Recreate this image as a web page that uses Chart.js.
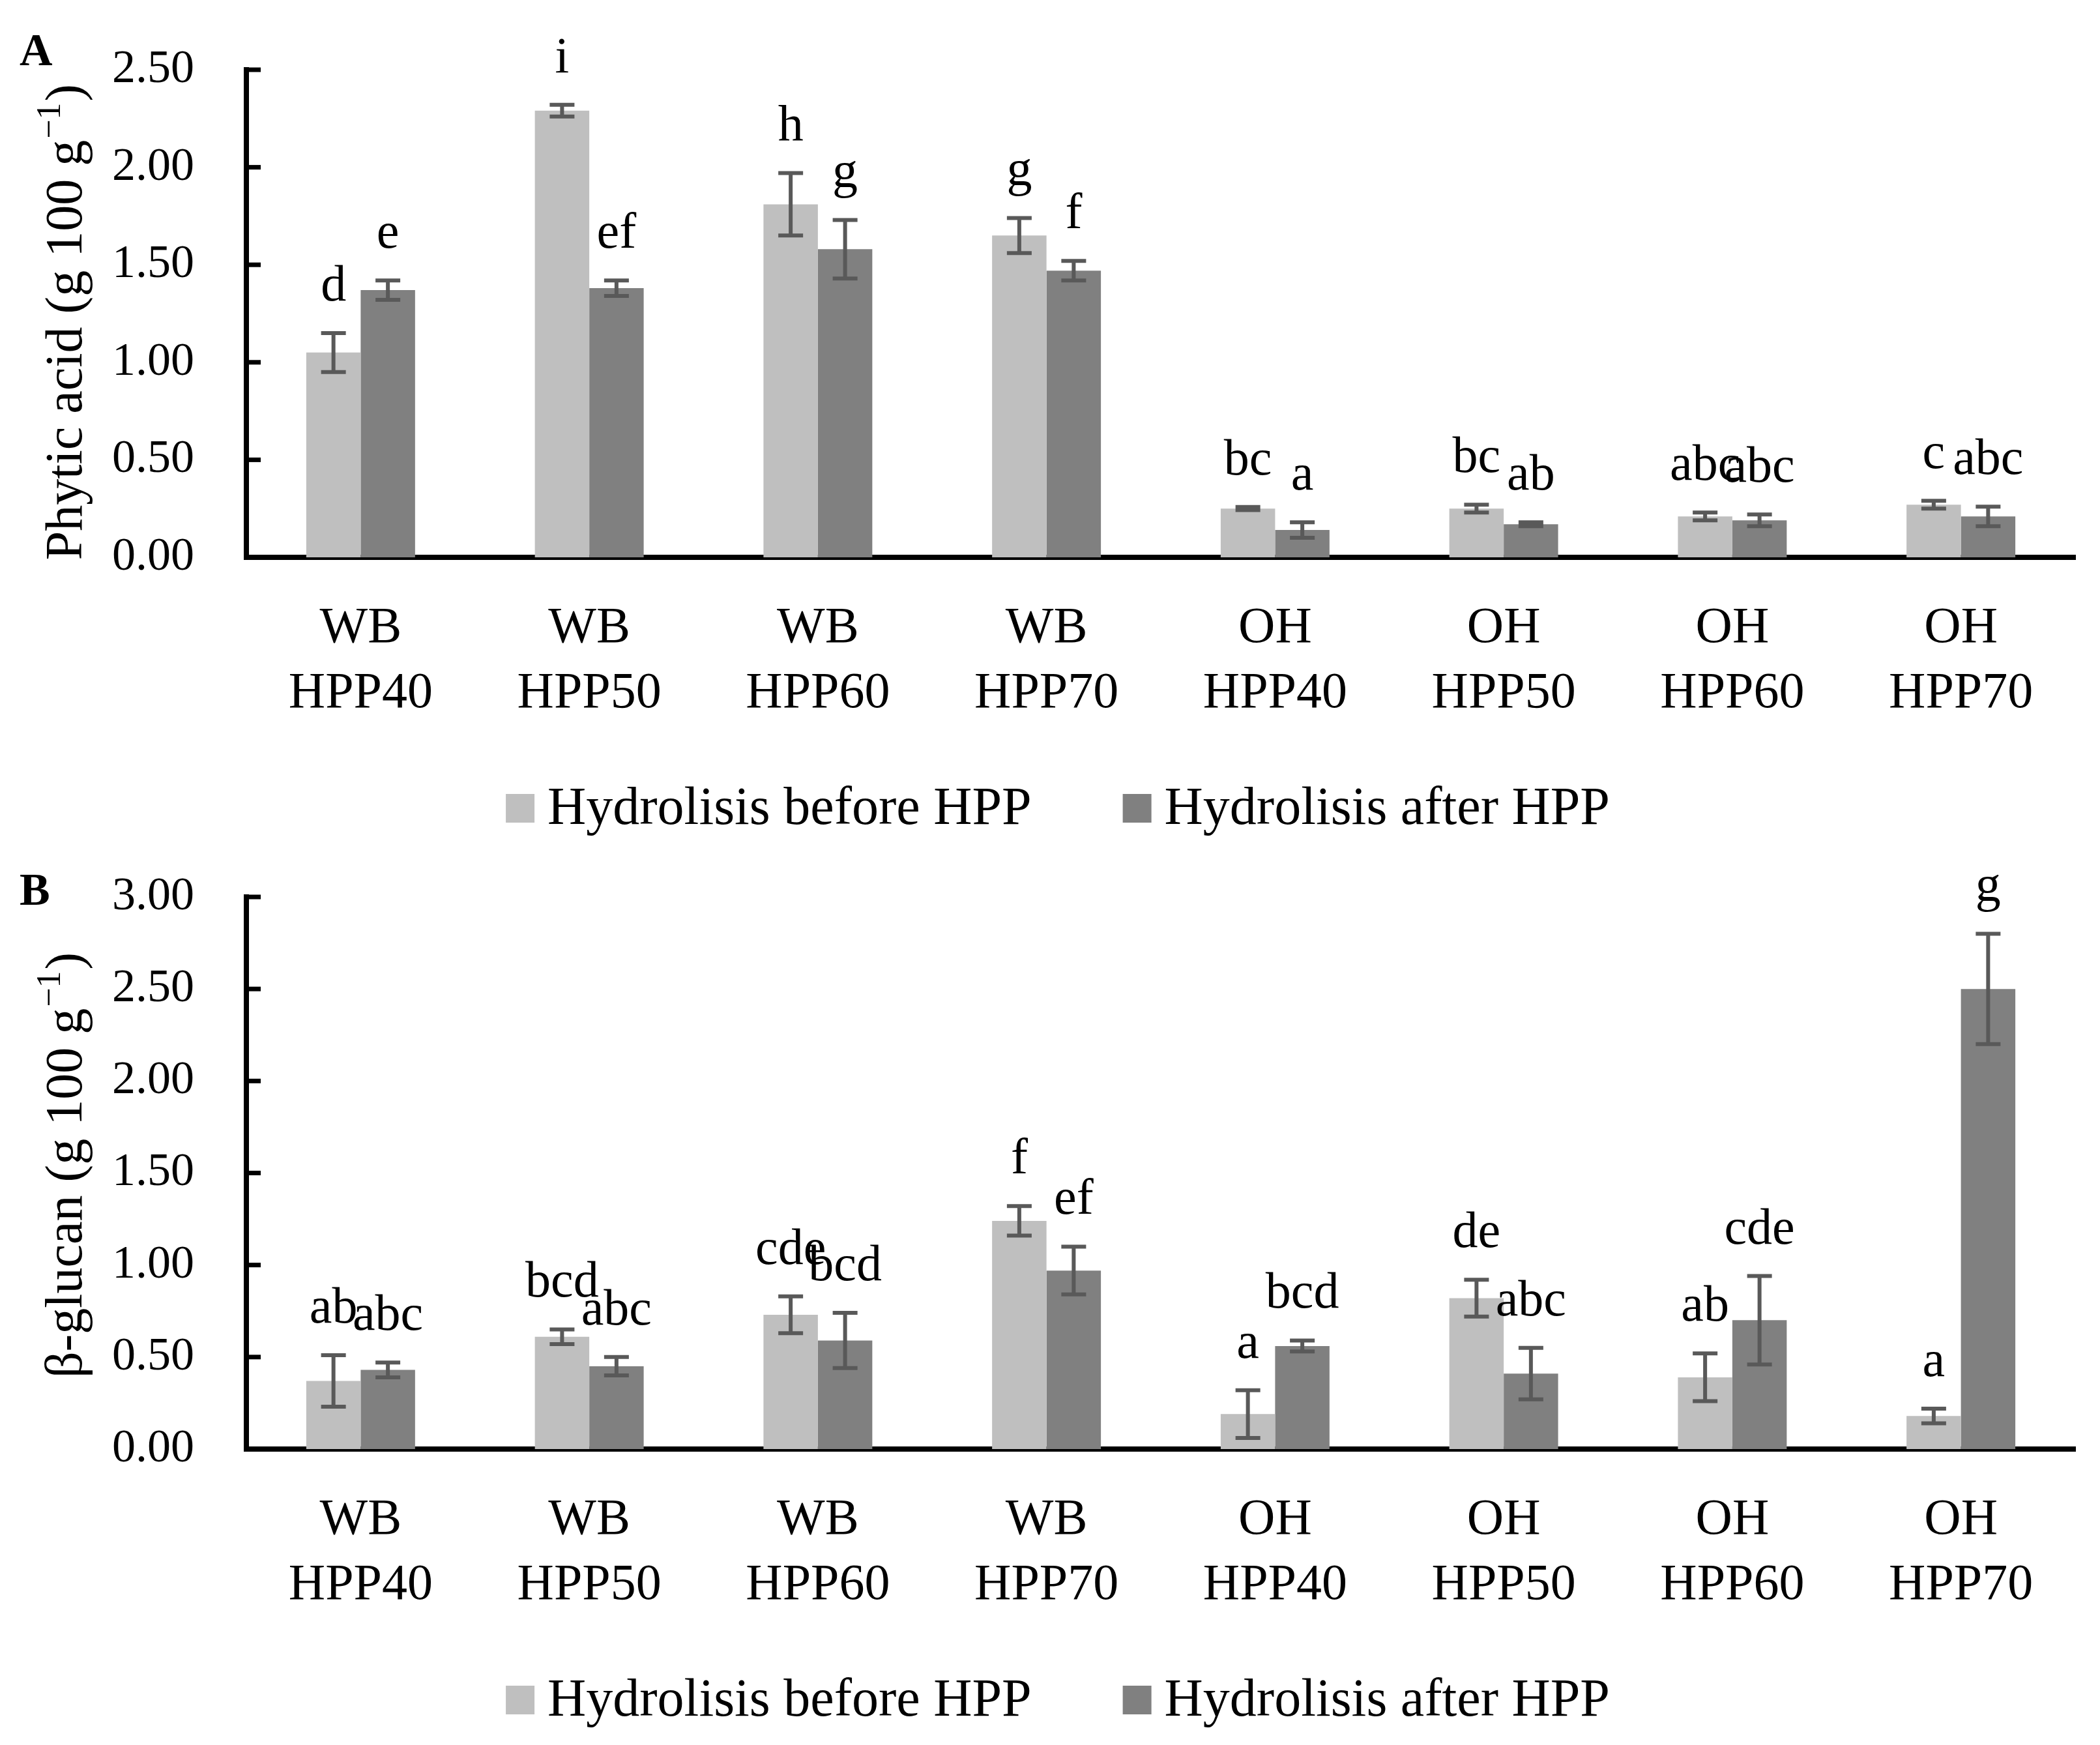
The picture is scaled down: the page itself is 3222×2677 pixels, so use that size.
<!DOCTYPE html>
<html>
<head>
<meta charset="utf-8">
<script src="https://cdn.jsdelivr.net/npm/chart.js@4.4.1/dist/chart.umd.min.js"></script>
<style>
  html, body { margin: 0; padding: 0; background: #fff; }
  #wrap { position: relative; width: 3222px; height: 2677px; }
  canvas { position: absolute; left: 0; }
  #chartA { top: 0; }
  #chartB { top: 1300px; }
</style>
</head>
<body>
<div id="wrap">
  <canvas id="chartA" width="3222" height="1300" style="width:3222px;height:1300px"></canvas>
  <canvas id="chartB" width="3222" height="1377" style="width:3222px;height:1377px"></canvas>
</div>
<script>
// data
const categories = [
  ["WB", "HPP40"], ["WB", "HPP50"], ["WB", "HPP60"], ["WB", "HPP70"],
  ["OH", "HPP40"], ["OH", "HPP50"], ["OH", "HPP60"], ["OH", "HPP70"]
];
const seriesNames = ["Hydrolisis before HPP", "Hydrolisis after HPP"];

// A - phytic acid
const phyticBefore = [1.05, 2.29, 1.81, 1.65, 0.25, 0.25, 0.21, 0.27];
const phyticBeforeErr = [0.10, 0.03, 0.16, 0.09, 0.008, 0.02, 0.02, 0.02];
const phyticAfter = [1.37, 1.38, 1.58, 1.47, 0.14, 0.17, 0.19, 0.21];
const phyticAfterErr = [0.05, 0.04, 0.15, 0.05, 0.04, 0.01, 0.03, 0.05];
const phyticBeforeLetters = ["d", "i", "h", "g", "bc", "bc", "abc", "c"];
const phyticAfterLetters = ["e", "ef", "g", "f", "a", "ab", "abc", "abc"];
const phyticTicks = { max: 2.5, step: 0.5 };

// B - beta-glucan
const glucanBefore = [0.37, 0.61, 0.73, 1.24, 0.19, 0.82, 0.39, 0.18];
const glucanBeforeErr = [0.14, 0.04, 0.10, 0.08, 0.13, 0.10, 0.13, 0.04];
const glucanAfter = [0.43, 0.45, 0.59, 0.97, 0.56, 0.41, 0.70, 2.50];
const glucanAfterErr = [0.04, 0.05, 0.15, 0.13, 0.03, 0.14, 0.24, 0.30];
const glucanBeforeLetters = ["ab", "bcd", "cde", "f", "a", "de", "ab", "a"];
const glucanAfterLetters = ["abc", "abc", "bcd", "ef", "bcd", "abc", "cde", "g"];
const glucanTicks = { max: 3, step: 0.5 };

const FONT = "'Liberation Serif', 'DejaVu Serif', serif";
const LIGHT = "#bfbfbf", DARK = "#808080", ERR = "#595959";

// error bars, letters, inward ticks, axis title, legend, panel letter
const annot = {
  id: "annot",
  afterDatasetsDraw(chart) {
    const ctx = chart.ctx, y = chart.scales.y;
    chart.data.datasets.forEach((ds, di) => {
      chart.getDatasetMeta(di).data.forEach((bar, i) => {
        const v = ds.data[i], e = ds.errors[i];
        const yt = y.getPixelForValue(v + e), yb = y.getPixelForValue(v - e);
        ctx.save();
        ctx.strokeStyle = ERR;
        ctx.lineWidth = 6;
        ctx.beginPath();
        ctx.moveTo(bar.x, yt); ctx.lineTo(bar.x, yb);
        ctx.moveTo(bar.x - 19, yt); ctx.lineTo(bar.x + 19, yt);
        ctx.moveTo(bar.x - 19, yb); ctx.lineTo(bar.x + 19, yb);
        ctx.stroke();
        ctx.fillStyle = "#000";
        ctx.font = "78px " + FONT;
        ctx.textAlign = "center";
        ctx.textBaseline = "alphabetic";
        ctx.fillText(ds.letters[i], bar.x, yt - 50);
        ctx.restore();
      });
    });
  },
  afterDraw(chart, args, opts) {
    const ctx = chart.ctx, ca = chart.chartArea, y = chart.scales.y;
    ctx.save();
    // inward tick marks
    ctx.strokeStyle = "#000";
    ctx.lineWidth = 7;
    y.ticks.forEach((t, i) => {
      if (t.value === 0) return;
      const py = y.getPixelForTick(i);
      ctx.beginPath();
      ctx.moveTo(ca.left, py);
      ctx.lineTo(ca.left + 22, py);
      ctx.stroke();
    });

    // y axis title with superscript
    ctx.fillStyle = "#000";
    ctx.textBaseline = "alphabetic";
    ctx.textAlign = "left";
    const mainF = "80px " + FONT, supF = "52px " + FONT;
    const [main, sup, close] = opts.title;
    ctx.font = mainF; const w1 = ctx.measureText(main).width, w3 = ctx.measureText(close).width;
    ctx.font = supF; const w2 = ctx.measureText(sup).width;
    ctx.translate(125, (ca.top + ca.bottom) / 2 + opts.titleShift);
    ctx.rotate(-Math.PI / 2);
    let sx = -(w1 + w2 + w3) / 2;
    ctx.font = mainF; ctx.fillText(main, sx, 0); sx += w1;
    ctx.font = supF; ctx.fillText(sup, sx + 2, -33); sx += w2 + 4;
    ctx.font = mainF; ctx.fillText(close, sx, 0);
    ctx.setTransform(1, 0, 0, 1, 0, 0);

    // legend
    ctx.font = "82px " + FONT;
    ctx.textBaseline = "middle";
    const box = 44, gapText = 20, gapItem = 140;
    const items = chart.data.datasets.map(ds => ({ label: ds.label, color: ds.backgroundColor, w: ctx.measureText(ds.label).width }));
    const total = items.reduce((s, it) => s + box + gapText + it.w, 0) + gapItem * (items.length - 1);
    let lx = chart.width / 2 + 12 - total / 2;
    const ly = ca.bottom + 385;
    items.forEach(it => {
      ctx.fillStyle = it.color;
      ctx.fillRect(lx, ly - box / 2, box, box);
      ctx.fillStyle = "#000";
      ctx.fillText(it.label, lx + box + gapText, ly + 2);
      lx += box + gapText + it.w + gapItem;
    });

    // panel letter
    ctx.font = "bold 70px " + FONT;
    ctx.textBaseline = "alphabetic";
    ctx.fillText(opts.panel, 30, opts.panelY);
    ctx.restore();
  }
};

function makeChart(id, before, beforeErr, beforeLetters, after, afterErr, afterLetters, ticks, pad, xHeight, panel, panelY, title, titleShift) {
  return new Chart(document.getElementById(id), {
    type: "bar",
    data: {
      labels: categories,
      datasets: [
        { label: seriesNames[0], data: before, errors: beforeErr, letters: beforeLetters, backgroundColor: LIGHT },
        { label: seriesNames[1], data: after, errors: afterErr, letters: afterLetters, backgroundColor: DARK }
      ]
    },
    options: {
      responsive: false,
      animation: false,
      devicePixelRatio: 1,
      layout: { padding: { top: pad, left: 0, right: 38, bottom: 0 } },
      datasets: { bar: { categoryPercentage: 0.476, barPercentage: 1.0, borderWidth: 0 } },
      plugins: {
        legend: { display: false },
        tooltip: { enabled: false },
        annot: { panel, panelY, title, titleShift }
      },
      scales: {
        x: {
          grid: { display: false, drawTicks: false },
          border: { display: true, color: "#000", width: 8 },
          ticks: { color: "#000", padding: 60, maxRotation: 0, autoSkip: false, font: { family: FONT, size: 78, lineHeight: 1.282 } },
          afterFit(s) { s.height = xHeight; s.paddingLeft = 0; s.paddingRight = 0; }
        },
        y: {
          min: 0,
          max: ticks.max,
          grid: { display: false, drawTicks: false },
          border: { display: true, color: "#000", width: 8 },
          ticks: { stepSize: ticks.step, color: "#000", padding: 80, font: { family: FONT, size: 72 }, callback: v => v.toFixed(2) },
          afterFit(s) { s.width = 378; s.paddingTop = 0; s.paddingBottom = 0; }
        }
      }
    },
    plugins: [annot]
  });
}

makeChart("chartA", phyticBefore, phyticBeforeErr, phyticBeforeLetters, phyticAfter, phyticAfterErr, phyticAfterLetters,
  phyticTicks, 107, 445, "A", 100, ["Phytic acid (g 100 g", "\u22121", ")"], 15);
makeChart("chartB", glucanBefore, glucanBeforeErr, glucanBeforeLetters, glucanAfter, glucanAfterErr, glucanAfterLetters,
  glucanTicks, 76, 454, "B", 88, ["\u03b2-glucan (g 100 g", "\u22121", ")"], -10);
</script>
</body>
</html>
